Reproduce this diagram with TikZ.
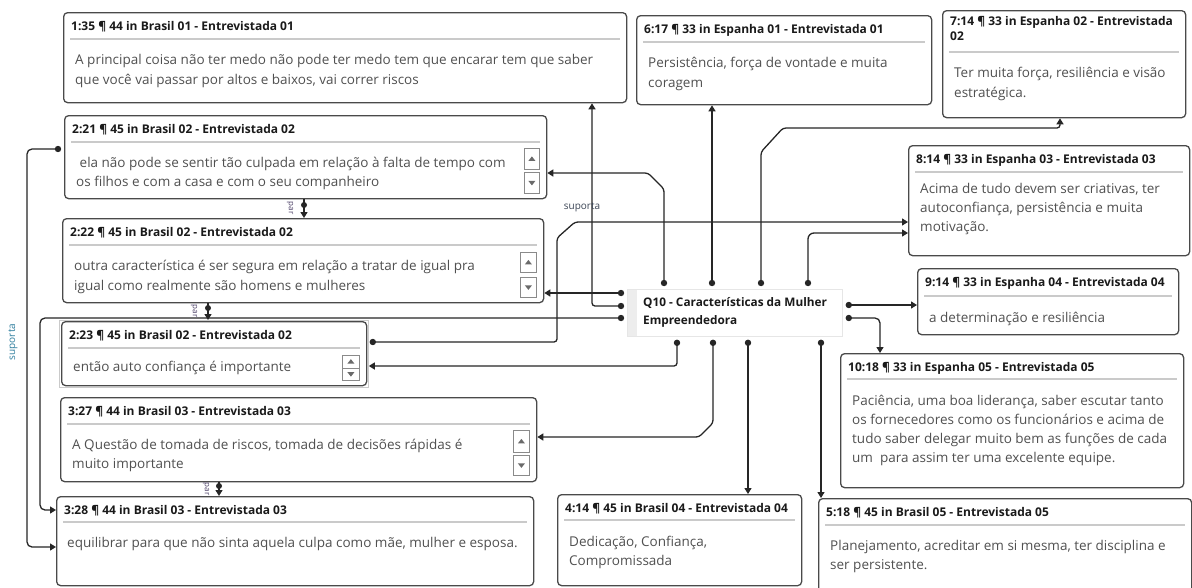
\documentclass[tikz,border=0pt]{standalone}
\usepackage{fontspec}
\setmainfont{Open Sans}
\usetikzlibrary{arrows.meta,calc}
\definecolor{boxline}{HTML}{4A4A4A}
\definecolor{ttlcol}{HTML}{1A1A1A}
\definecolor{bodycol}{HTML}{505050}
\definecolor{sepcol}{HTML}{CACACA}
\definecolor{conncol}{HTML}{262626}
\definecolor{qline}{HTML}{E6E6E6}
\definecolor{qstrip}{HTML}{EDEDED}
\definecolor{btncol}{HTML}{6A6A6A}
\definecolor{btnline}{HTML}{8A8A8A}
\definecolor{lblcol}{HTML}{3C4656}
\definecolor{tealcol}{HTML}{2F7E9E}
\definecolor{tinycol}{HTML}{4B3F66}
\tikzset{
  qbox/.style={draw=boxline,line width=1.3pt,rounded corners=4pt,fill=white,inner sep=0pt,anchor=north west},
  btn/.style={draw=btnline,line width=0.8pt,fill=white,inner sep=0pt,anchor=north west},
  ttl/.style={font=\fontsize{12}{14}\selectfont\bfseries,text=ttlcol,inner sep=0pt,anchor=base west},
  btxt/.style={font=\fontsize{13.5}{15}\selectfont,text=bodycol,inner sep=0pt,anchor=base west},
  qtxt/.style={font=\fontsize{11.8}{13}\selectfont\bfseries,text=ttlcol,inner sep=0pt,anchor=base west},
  sepline/.style={draw=sepcol,line width=1.8pt},
  conn/.style={draw=conncol,line width=1.3pt,rounded corners=3pt},
  arr/.style={-{Triangle[width=7pt,length=6pt]}},
  dotc/.style={fill=conncol},
  lbl/.style={font=\fontsize{10}{11}\selectfont,inner sep=0pt},
  tinylbl/.style={font=\fontsize{8}{9}\selectfont,text=tinycol,inner sep=0pt},
}
\newcommand{\mkbox}[5]{\node[qbox,minimum width={(#4-#2)*1pt},minimum height={(#5-#3)*1pt}] (#1) at (#2,#3) {};}
\newcommand{\mkttl}[4]{\node[ttl] (#1) at ([shift={(8,#3)}]#2.north west) {#4};}
\newcommand{\mksep}[2]{\draw[sepline] ([shift={(7,#2)}]#1.north west) -- ([shift={(-7,#2)}]#1.north east);}
\newcommand{\mkln}[5]{\node[btxt] (#1) at ([shift={(#3,#4)}]#2.north west) {#5};}
\newcommand{\mkbtn}[6]{%
  \node[btn,minimum width={(#4-#2)*1pt},minimum height={(#5-#3)*1pt}] (#1) at (#2,#3) {};
  \fill[btncol] ([shift={(-3.5,{2*(#6)})}]#1.center) -- ([shift={(3.5,{2*(#6)})}]#1.center) -- ([shift={(0,{-2.5*(#6)})}]#1.center) -- cycle;}
\begin{document}
\begin{tikzpicture}[x=1pt,y=-1pt]
\useasboundingbox (0,0) rectangle (1192,587);
\clip (0,0) rectangle (1192,587);
\fill[white] (0,0) rectangle (1192,587);

% ---------- boxes ----------
\mkbox{b1}{63}{12}{626}{102}
\mkttl{b1t}{b1}{18}{1:35 ¶ 44 in Brasil 01 - Entrevistada 01}
\mksep{b1}{27}
\mkln{b1a}{b1}{12}{52}{A principal coisa não ter medo não pode ter medo tem que encarar tem que saber}
\mkln{b1b}{b1}{12}{72}{que você vai passar por altos e baixos, vai correr riscos}

\mkbox{b6}{636}{15}{931}{104}
\mkttl{b6t}{b6}{18}{6:17 ¶ 33 in Espanha 01 - Entrevistada 01}
\mksep{b6}{27}
\mkln{b6a}{b6}{12}{52}{Persistência, força de vontade e muita}
\mkln{b6b}{b6}{12}{72}{coragem}

\mkbox{b7}{942}{10}{1185}{117}
\mkttl{b7t}{b7}{15}{7:14 ¶ 33 in Espanha 02 - Entrevistada}
\mkttl{b7u}{b7}{30}{02}
\mksep{b7}{42}
\mkln{b7a}{b7}{12}{67}{Ter muita força, resiliência e visão}
\mkln{b7b}{b7}{12}{87}{estratégica.}

\mkbox{b2}{64}{115}{546}{198}
\mkttl{b2t}{b2}{18}{2:21 ¶ 45 in Brasil 02 - Entrevistada 02}
\mksep{b2}{27}
\mkln{b2a}{b2}{12}{52}{\ ela não pode se sentir tão culpada em relação à falta de tempo com}
\mkln{b2b}{b2}{12}{71}{os filhos e com a casa e com o seu companheiro}
\mkbtn{b2up}{524}{148}{539}{169}{1}
\mkbtn{b2dn}{524}{172}{539}{193}{-1}

\mkbox{b8}{908}{145}{1189}{255}
\mkttl{b8t}{b8}{18}{8:14 ¶ 33 in Espanha 03 - Entrevistada 03}
\mksep{b8}{27}
\mkln{b8a}{b8}{12}{48}{Acima de tudo devem ser criativas, ter}
\mkln{b8b}{b8}{12}{67}{autoconfiança, persistência e muita}
\mkln{b8c}{b8}{12}{86}{motivação.}

\mkbox{b3}{62}{218}{543}{302}
\mkttl{b3t}{b3}{18}{2:22 ¶ 45 in Brasil 02 - Entrevistada 02}
\mksep{b3}{27}
\mkln{b3a}{b3}{12}{52}{outra característica é ser segura em relação a tratar de igual pra}
\mkln{b3b}{b3}{12}{72}{igual como realmente são homens e mulheres}
\mkbtn{b3up}{520}{252}{536}{272}{1}
\mkbtn{b3dn}{520}{277}{536}{297}{-1}

\mkbox{b9}{917}{268}{1178}{334}
\mkttl{b9t}{b9}{18}{9:14 ¶ 33 in Espanha 04 - Entrevistada 04}
\mksep{b9}{28}
\mkln{b9a}{b9}{12}{54}{a determinação e resiliência}

% central node
\node[draw=qline,line width=0.8pt,fill=white,inner sep=0pt,minimum width=215pt,minimum height=47pt,anchor=north west] (q) at (627,289) {};
\fill[qstrip] ([shift={(0.5,0.5)}]q.north west) rectangle ([shift={(10,-0.5)}]q.south west);
\node[qtxt] (qa) at ([shift={(16,17)}]q.north west) {Q10 - Características da Mulher};
\node[qtxt] (qb) at ([shift={(16,35)}]q.north west) {Empreendedora};

\node[draw=sepcol,line width=0.8pt,inner sep=0pt,minimum width=309pt,minimum height=67pt,anchor=north west] (b4f) at (59,320) {};
\mkbox{b4}{61}{321}{366}{385}
\mkttl{b4t}{b4}{18}{2:23 ¶ 45 in Brasil 02 - Entrevistada 02}
\mksep{b4}{27}
\mkln{b4a}{b4}{12}{50}{então auto confiança é importante}
\mkbtn{b4up}{342}{355}{359}{367.5}{1}
\mkbtn{b4dn}{342}{367.5}{359}{380}{-1}

\mkbox{b10}{840}{353}{1183}{487}
\mkttl{b10t}{b10}{18}{10:18 ¶ 33 in Espanha 05 - Entrevistada 05}
\mksep{b10}{26}
\mkln{b10a}{b10}{12}{52}{Paciência, uma boa liderança, saber escutar tanto}
\mkln{b10b}{b10}{12}{71}{os fornecedores como os funcionários e acima de}
\mkln{b10c}{b10}{12}{90}{tudo saber delegar muito bem as funções de cada}
\mkln{b10d}{b10}{12}{109}{um\ \ para assim ter uma excelente equipe.}

\mkbox{b5}{60}{397}{536}{481}
\mkttl{b5t}{b5}{18}{3:27 ¶ 44 in Brasil 03 - Entrevistada 03}
\mksep{b5}{27}
\mkln{b5a}{b5}{12}{52}{A Questão de tomada de riscos, tomada de decisões rápidas é}
\mkln{b5b}{b5}{12}{71}{muito importante}
\mkbtn{b5up}{513}{430}{529}{452}{1}
\mkbtn{b5dn}{513}{455}{529}{475}{-1}

\mkbox{b11}{56}{496}{533}{585}
\mkttl{b11t}{b11}{18}{3:28 ¶ 44 in Brasil 03 - Entrevistada 03}
\mksep{b11}{26}
\mkln{b11a}{b11}{11}{51}{equilibrar para que não sinta aquela culpa como mãe, mulher e esposa.}

\mkbox{b12}{557}{494}{801}{585}
\mkttl{b12t}{b12}{18}{4:14 ¶ 45 in Brasil 04 - Entrevistada 04}
\mksep{b12}{26}
\mkln{b12a}{b12}{12}{52}{Dedicação, Confiança,}
\mkln{b12b}{b12}{12}{71}{Compromissada}

\mkbox{b13}{818}{498}{1191}{594}
\mkttl{b13t}{b13}{18}{5:18 ¶ 45 in Brasil 05 - Entrevistada 05}
\mksep{b13}{27}
\mkln{b13a}{b13}{12}{52}{Planejamento, acreditar em si mesma, ter disciplina e}
\mkln{b13b}{b13}{12}{71}{ser persistente.}

% ---------- connector end points on Q10 ----------
\coordinate (qt1) at ([shift={(37,-6)}]q.north west);
\coordinate (qt2) at ([shift={(85,-6)}]q.north west);
\coordinate (qt3) at ([shift={(134,-6)}]q.north west);
\coordinate (qt4) at ([shift={(181,-6)}]q.north west);
\coordinate (ql1) at ([shift={(-6,4)}]q.north west);
\coordinate (ql2) at ([shift={(-6,17)}]q.north west);
\coordinate (ql3) at ([shift={(-6,29)}]q.north west);
\coordinate (qb1) at ([shift={(50,6)}]q.south west);
\coordinate (qb2) at ([shift={(86,6)}]q.south west);
\coordinate (qb3) at ([shift={(121,6)}]q.south west);
\coordinate (qb4) at ([shift={(194,6)}]q.south west);
\coordinate (qr1) at ([shift={(6,16)}]q.north east);
\coordinate (qr2) at ([shift={(6,29)}]q.north east);
\coordinate (b4d) at ([shift={(4,22)}]b4f.north east);
\coordinate (b2d) at ([shift={(-6,34)}]b2.north west);

% ---------- connectors ----------
\draw[conn,arr] (ql2) -- (592,306) -- (b1.south -| 592,0);
\draw[conn,arr] (qt2) -- (b6.south -| 712,0);
\draw[conn,arr] (qt3) -- (761,152) -- (783,128) -- (1060,128) -- (b7.south -| 1060,0);
\draw[conn,arr] (qt1) -- (664,189) -- (648,173) -- (b2.east |- 0,173);
\draw[conn,arr,rounded corners=6pt] (qt4) -- (808,233) -- (b8.west |- 0,233);
\draw[conn,arr] (b4d) -- (557,342) -- (557,238) -- (575,222) -- (b8.west |- 0,222);
\draw[conn,arr] (ql1) -- (b3.east |- 0,293);
\draw[conn,arr,rounded corners=5pt] (ql3) -- (40,318) -- (40,510) -- (b11.west |- 0,510);
\draw[conn,arr,rounded corners=5pt] (b2d) -- (27,149) -- (27,547) -- (b11.west |- 0,547);
\draw[conn,arr] (qb1) -- (677,366) -- (b4f.east |- 0,366);
\draw[conn,arr] (qb2) -- (713,423) -- (699,437) -- (b5.east |- 0,437);
\draw[conn,arr] (qb3) -- (b12.north -| 748,0);
\draw[conn,arr] (qb4) -- (b13.north -| 821,0);
\draw[conn,arr] (qr1) -- (b9.west |- 0,305);
\draw[conn,arr,rounded corners=5pt] (qr2) -- (880,318) -- (b10.north -| 880,0);

% short links between neighbouring quotations
\draw[conn,arr] (b2.south -| 304,0) -- (b3.north -| 304,0);
\draw[conn,arr] (b3.south -| 208,0) -- (b4f.north -| 208,0);
\draw[conn,arr] (b5.south -| 219,0) -- (b11.north -| 219,0);

% dots
\foreach \p in {qt1,qt2,qt3,qt4,ql1,ql2,ql3,qb1,qb2,qb3,qb4,qr1,qr2,b4d,b2d}
  \fill[dotc] (\p) circle (3.2pt);
\fill[dotc] (304,205) circle (3pt);
\fill[dotc] (208,308) circle (3pt);
\fill[dotc] (219,486) circle (3pt);

% labels
\node[lbl,text=lblcol] (sup1) at (582,207) {suporta};
\node[lbl,text=tealcol,rotate=90] (sup2) at (13,342) {suporta};
\node[tinylbl,rotate=-90] (par1) at (290,208) {par};
\node[tinylbl,rotate=-90] (par2) at (194,311) {par};
\node[tinylbl,rotate=-90] (par3) at (206,489) {par};
\end{tikzpicture}
\end{document}
